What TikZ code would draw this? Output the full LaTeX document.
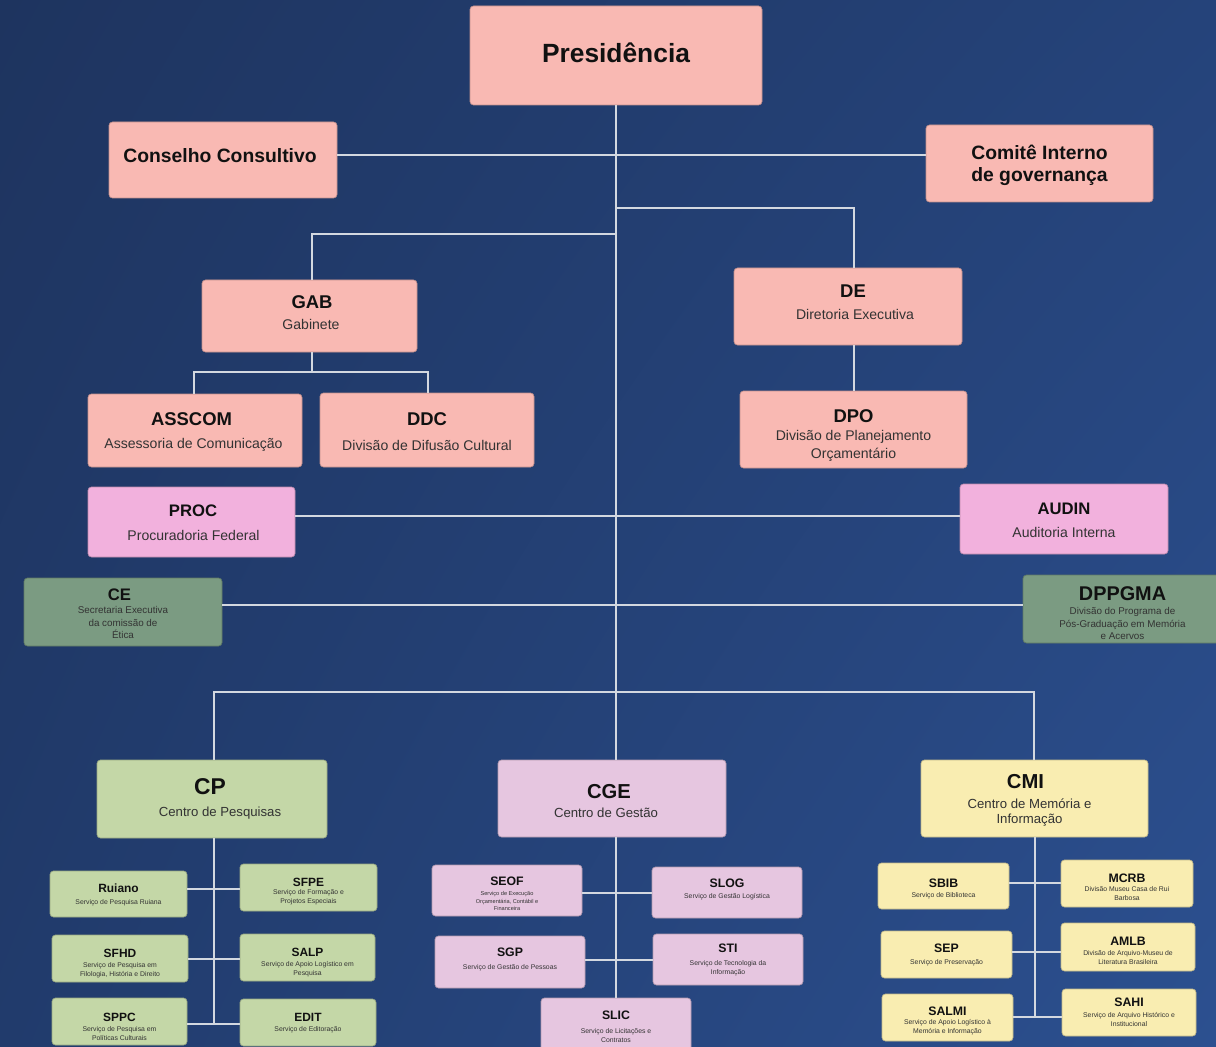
\documentclass[tikz,border=0pt]{standalone}
\usepackage{fontspec}
\setmainfont{Liberation Sans}
\usetikzlibrary{fit,shadings}
\definecolor{bgUL}{HTML}{1E345F}
\definecolor{bgUR}{HTML}{25437A}
\definecolor{bgLL}{HTML}{213B6C}
\definecolor{bgLR}{HTML}{2C5090}
\definecolor{salmon}{HTML}{F9B9B3}
\definecolor{pinkc}{HTML}{F2B1DD}
\definecolor{sage}{HTML}{7B9B82}
\definecolor{leaf}{HTML}{C4D7A7}
\definecolor{lilac}{HTML}{E6C6E0}
\definecolor{cream}{HTML}{F9EDB1}
\definecolor{wirec}{HTML}{D3D8E0}
\definecolor{ink}{HTML}{111111}
\definecolor{inksub}{HTML}{333333}
\newcommand\fs[2]{\fontsize{#1pt}{#2pt}\selectfont}
\newcommand\mkbox[4]{\node[orgbox=#2, fit={(#3) (#4)}] (#1) {};}
\newcommand\mkttl[5][0]{\node[ttl, font={#4\bfseries}, xshift={#1*0.02cm}] (#2-t) at (#2.center |- 0,#3) {#5};}
\newcommand\mksub[5][0]{\node[subt, font={#4}, xshift={#1*0.02cm}] (#2-s) at (#2.center |- 0,#3) {#5};}
\tikzset{
  orgbox/.style={fill=#1, draw=#1!78!black, line width=0.4pt, rounded corners=2pt, inner sep=0pt},
  ttl/.style={inner sep=0pt, text=ink, align=center},
  subt/.style={inner sep=0pt, text=inksub, align=center},
  wire/.style={draw=wirec, line width=0.9pt},
}
\begin{document}
\begin{tikzpicture}[x=0.02cm, y=-0.02cm]
\shade[upper left=bgUL, upper right=bgUR, lower left=bgLL, lower right=bgLR] (0,0) rectangle (1216,1047);
\useasboundingbox (0,0) rectangle (1216,1047);

% top level
\mkbox{pres}{salmon}{470,6}{762,105}
\mkttl{pres}{53}{\fs{15}{18}}{Presidência}
\mkbox{cons}{salmon}{109,122}{337,198}
\mkttl[-3]{cons}{156}{\fs{11}{13}}{Conselho Consultivo}
\mkbox{comite}{salmon}{926,125}{1153,202}
\mkttl{comite}{165}{\fs{11}{12.5}}{Comitê Interno\\de governança}

\mkbox{gab}{salmon}{202,280}{417,352}
\mkttl[2.5]{gab}{302}{\fs{10.5}{12}}{GAB}
\mksub[1.5]{gab}{324}{\fs{8}{10}}{Gabinete}
\mkbox{de}{salmon}{734,268}{962,345}
\mkttl[5]{de}{291}{\fs{10.5}{12}}{DE}
\mksub[7]{de}{314}{\fs{8}{10}}{Diretoria Executiva}

\mkbox{asscom}{salmon}{88,394}{302,467}
\mkttl[-3.5]{asscom}{419}{\fs{10.5}{12}}{ASSCOM}
\mksub[-1.5]{asscom}{445}{\fs{8}{10}}{Assessoria de Comunicação}
\mkbox{ddc}{salmon}{320,393}{534,467}
\mkttl{ddc}{419}{\fs{10.5}{12}}{DDC}
\mksub{ddc}{445}{\fs{8}{10}}{Divisão de Difusão Cultural}
\mkbox{dpo}{salmon}{740,391}{967,468}
\mkttl{dpo}{416}{\fs{10.5}{12}}{DPO}
\mksub{dpo}{446}{\fs{8}{10.2}}{Divisão de Planejamento\\Orçamentário}

\mkbox{proc}{pinkc}{88,487}{295,557}
\mkttl[1.5]{proc}{511}{\fs{9.5}{11}}{PROC}
\mksub[2]{proc}{535}{\fs{8}{10}}{Procuradoria Federal}
\mkbox{audin}{pinkc}{960,484}{1168,554}
\mkttl{audin}{509}{\fs{9.5}{11}}{AUDIN}
\mksub{audin}{532}{\fs{8}{10}}{Auditoria Interna}

\mkbox{ce}{sage}{24,578}{222,646}
\mkttl[-3.5]{ce}{595}{\fs{9.5}{11}}{CE}
\mksub{ce}{622.5}{\fs{5.6}{7.1}}{Secretaria Executiva\\da comissão de\\Ética}
\mkbox{dppgma}{sage}{1023,575}{1222,643}
\mkttl{dppgma}{594}{\fs{11.3}{13}}{DPPGMA}
\mksub{dppgma}{623.5}{\fs{5.6}{7.1}}{Divisão do Programa de\\Pós-Graduação em Memória\\e Acervos}

% centres
\mkbox{cp}{leaf}{97,760}{327,838}
\mkttl[-2]{cp}{787}{\fs{13}{15}}{CP}
\mksub[8]{cp}{813}{\fs{7.5}{9}}{Centro de Pesquisas}
\mkbox{cge}{lilac}{498,760}{726,837}
\mkttl[-3]{cge}{792}{\fs{11.5}{13}}{CGE}
\mksub[-6]{cge}{813}{\fs{7.5}{9}}{Centro de Gestão}
\mkbox{cmi}{cream}{921,760}{1148,837}
\mkttl[-9]{cmi}{782}{\fs{11.5}{13}}{CMI}
\mksub[-5]{cmi}{812.5}{\fs{7.5}{9}}{Centro de Memória e\\Informação}

% CP services
\mkbox{ruiano}{leaf}{50,871}{187,917}
\mkttl{ruiano}{888}{\fs{6.8}{8}}{Ruiano}
\mksub{ruiano}{903}{\fs{3.9}{5.1}}{Serviço de Pesquisa Ruiana}
\mkbox{sfpe}{leaf}{240,864}{377,911}
\mkttl{sfpe}{882}{\fs{6.8}{8}}{SFPE}
\mksub{sfpe}{897.5}{\fs{3.9}{5.1}}{Serviço de Formação e\\Projetos Especiais}
\mkbox{sfhd}{leaf}{52,935}{188,982}
\mkttl{sfhd}{953}{\fs{6.8}{8}}{SFHD}
\mksub{sfhd}{970.5}{\fs{3.9}{5.1}}{Serviço de Pesquisa em\\Filologia, História e Direito}
\mkbox{salp}{leaf}{240,934}{375,981}
\mkttl{salp}{952}{\fs{6.8}{8}}{SALP}
\mksub{salp}{969.5}{\fs{3.9}{5.1}}{Serviço de Apoio Logístico em\\Pesquisa}
\mkbox{sppc}{leaf}{52,998}{187,1045}
\mkttl{sppc}{1017}{\fs{6.8}{8}}{SPPC}
\mksub{sppc}{1033.5}{\fs{3.9}{5.1}}{Serviço de Pesquisa em\\Políticas Culturais}
\mkbox{edit}{leaf}{240,999}{376,1046}
\mkttl{edit}{1017}{\fs{6.8}{8}}{EDIT}
\mksub{edit}{1030}{\fs{3.9}{5.1}}{Serviço de Editoração}

% CGE services
\mkbox{seof}{lilac}{432,865}{582,916}
\mkttl{seof}{881}{\fs{7}{8}}{SEOF}
\mksub{seof}{901}{\fs{3.2}{4.3}}{Serviço de Execução\\Orçamentária, Contábil e\\Financeira}
\mkbox{slog}{lilac}{652,867}{802,918}
\mkttl{slog}{883}{\fs{7}{8}}{SLOG}
\mksub{slog}{897}{\fs{3.9}{5.1}}{Serviço de Gestão Logística}
\mkbox{sgp}{lilac}{435,936}{585,988}
\mkttl{sgp}{952}{\fs{7}{8}}{SGP}
\mksub{sgp}{968}{\fs{3.9}{5.1}}{Serviço de Gestão de Pessoas}
\mkbox{sti}{lilac}{653,934}{803,985}
\mkttl{sti}{948}{\fs{7}{8}}{STI}
\mksub{sti}{968.5}{\fs{3.9}{5.1}}{Serviço de Tecnologia da\\Informação}
\mkbox{slic}{lilac}{541,998}{691,1052}
\mkttl{slic}{1015}{\fs{7}{8}}{SLIC}
\mksub{slic}{1035.5}{\fs{3.9}{5.1}}{Serviço de Licitações e\\Contratos}

% CMI services
\mkbox{sbib}{cream}{878,863}{1009,909}
\mkttl{sbib}{883}{\fs{7}{8}}{SBIB}
\mksub{sbib}{896}{\fs{3.9}{5.1}}{Serviço de Biblioteca}
\mkbox{mcrb}{cream}{1061,860}{1193,907}
\mkttl{mcrb}{878}{\fs{7}{8}}{MCRB}
\mksub{mcrb}{893.5}{\fs{3.9}{5.1}}{Divisão Museu Casa de Rui\\Barbosa}
\mkbox{sep}{cream}{881,931}{1012,978}
\mkttl{sep}{948}{\fs{7}{8}}{SEP}
\mksub{sep}{963}{\fs{3.9}{5.1}}{Serviço de Preservação}
\mkbox{amlb}{cream}{1061,923}{1195,971}
\mkttl{amlb}{941}{\fs{7}{8}}{AMLB}
\mksub{amlb}{957.5}{\fs{3.9}{5.1}}{Divisão de Arquivo-Museu de\\Literatura Brasileira}
\mkbox{salmi}{cream}{882,994}{1013,1041}
\mkttl{salmi}{1011}{\fs{7}{8}}{SALMI}
\mksub{salmi}{1027.5}{\fs{3.9}{5.1}}{Serviço de Apoio Logístico à\\Memória e Informação}
\mkbox{sahi}{cream}{1062,989}{1196,1036}
\mkttl{sahi}{1002}{\fs{7}{8}}{SAHI}
\mksub{sahi}{1019.5}{\fs{3.9}{5.1}}{Serviço de Arquivo Histórico e\\Institucional}

% connectors
\draw[wire] (pres.south) -- (pres.south |- cge.north);
\coordinate (jA) at (616,155);
\draw[wire] (cons.east |- jA) -- (comite.west |- jA);
\coordinate (jDE) at (616,208);
\coordinate (kDE) at (854,208);
\draw[wire] (jDE) -- (kDE) -- (kDE |- de.north);
\draw[wire] (kDE |- de.south) -- (kDE |- dpo.north);
\coordinate (jG) at (616,234);
\coordinate (kG) at (312,234);
\draw[wire] (jG) -- (kG) -- (kG |- gab.north);
\coordinate (kG2) at (312,372);
\draw[wire] (kG |- gab.south) -- (kG2);
\coordinate (kA) at (194,372);
\coordinate (kD) at (428,372);
\draw[wire] (kA |- asscom.north) -- (kA) -- (kD) -- (kD |- ddc.north);
\coordinate (jP) at (616,516);
\draw[wire] (proc.east |- jP) -- (audin.west |- jP);
\coordinate (jC) at (616,605);
\draw[wire] (ce.east |- jC) -- (dppgma.west |- jC);
\coordinate (kCP) at (214,692);
\coordinate (kCM) at (1034,692);
\draw[wire] (kCP |- cp.north) -- (kCP) -- (kCM) -- (kCM |- cmi.north);

\coordinate (vCP) at (214,1024);
\draw[wire] (vCP |- cp.south) -- (vCP);
\draw[wire] (ruiano.east |- 0,889) -- (sfpe.west |- 0,889);
\draw[wire] (sfhd.east |- 0,959) -- (salp.west |- 0,959);
\draw[wire] (sppc.east |- 0,1024) -- (edit.west |- 0,1024);

\draw[wire] (pres.south |- cge.south) -- (pres.south |- slic.north);
\draw[wire] (seof.east |- 0,893) -- (slog.west |- 0,893);
\draw[wire] (sgp.east |- 0,960) -- (sti.west |- 0,960);

\coordinate (vCM) at (1035,1017);
\draw[wire] (vCM |- cmi.south) -- (vCM);
\draw[wire] (sbib.east |- 0,883) -- (mcrb.west |- 0,883);
\draw[wire] (sep.east |- 0,952) -- (amlb.west |- 0,952);
\draw[wire] (salmi.east |- 0,1017) -- (sahi.west |- 0,1017);
\end{tikzpicture}
\end{document}
